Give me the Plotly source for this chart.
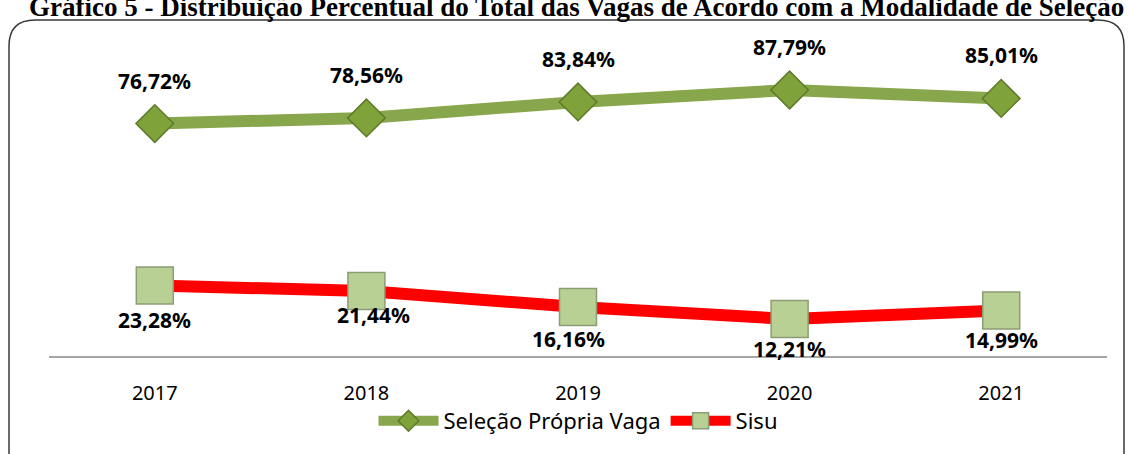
import plotly.graph_objects as go

# Data
anos = ["2017", "2018", "2019", "2020", "2021"]
selecao_propria = [76.72, 78.56, 83.84, 87.79, 85.01]
sisu = [23.28, 21.44, 16.16, 12.21, 14.99]

W, H = 1129, 454
L, R, T, B = 49, 22, 53, 98

def px(x):
    return (x - L) / (W - L - R)

def py(y):
    return (H - B - y) / (H - T - B)

def fmt(v):
    return f"{v:.2f}".replace(".", ",") + "%"

fig = go.Figure()

fig.add_trace(go.Scatter(
    x=anos, y=selecao_propria, name="Seleção Própria Vaga",
    mode="lines+markers",
    line=dict(color="#88A64B", width=12),
    marker=dict(symbol="diamond", size=29, color="#7FA23A",
                line=dict(color="#5E7A2A", width=1.5)),
))
fig.add_trace(go.Scatter(
    x=anos, y=sisu, name="Sisu",
    mode="lines+markers",
    line=dict(color="#FF0000", width=12),
    marker=dict(symbol="square", size=37, color="#B9D094",
                line=dict(color="#8C9C74", width=1.5)),
))

# value labels (label offsets as placed in the original)
lbl_font = dict(family="Noto Sans", size=21, color="black", weight="bold")
sisu_dy = [-35, -24, -32, -30, -29]
sisu_dx = [0, 7, -10, 0, 0]
for i, v in enumerate(selecao_propria):
    fig.add_annotation(x=i, y=v, text=fmt(v), showarrow=False, yshift=43, font=lbl_font)
for i, v in enumerate(sisu):
    fig.add_annotation(x=i, y=v, text=fmt(v), showarrow=False,
                       yshift=sisu_dy[i], xshift=sisu_dx[i], font=lbl_font)

# title, partly cut at the top
fig.add_annotation(xref="paper", yref="paper", x=px(576), y=py(24),
                   text="Gráfico 5 - Distribuição Percentual do Total das Vagas de Acordo com a Modalidade de Seleção",
                   showarrow=False, xanchor="center", yanchor="bottom",
                   font=dict(family="Liberation Serif", size=27, color="black", weight="bold"))

# rounded border
x0, x1, y0, y1, r = 9, 1124, 20, 480, 26
path = (f"M {px(x0 + r)},{py(y0)} L {px(x1 - r)},{py(y0)} "
        f"Q {px(x1)},{py(y0)} {px(x1)},{py(y0 + r)} "
        f"L {px(x1)},{py(y1 - r)} Q {px(x1)},{py(y1)} {px(x1 - r)},{py(y1)} "
        f"L {px(x0 + r)},{py(y1)} Q {px(x0)},{py(y1)} {px(x0)},{py(y1 - r)} "
        f"L {px(x0)},{py(y0 + r)} Q {px(x0)},{py(y0)} {px(x0 + r)},{py(y0)} Z")
fig.add_shape(type="path", path=path, xref="paper", yref="paper",
              line=dict(color="#3A3A3A", width=1.5), layer="below")

fig.update_layout(
    width=W, height=H,
    margin=dict(l=L, r=R, t=T, b=B),
    paper_bgcolor="white", plot_bgcolor="white",
    showlegend=True,
    legend=dict(orientation="h", x=px(578), xanchor="center", y=py(421), yanchor="middle",
                font=dict(family="Noto Sans", size=22, color="black"),
                itemwidth=60, traceorder="normal"),
    xaxis=dict(type="category", showline=True, linecolor="#A6A6A6", linewidth=2, ticks="",
               tickfont=dict(family="Noto Sans", size=20, color="black"),
               showgrid=False, range=[-0.5, 4.5], ticklabelstandoff=18),
    yaxis=dict(range=[0, 100], visible=False, showgrid=False),
)

fig.write_html("out.html", config={"displayModeBar": False},
               post_script="document.body.style.margin='0';")
